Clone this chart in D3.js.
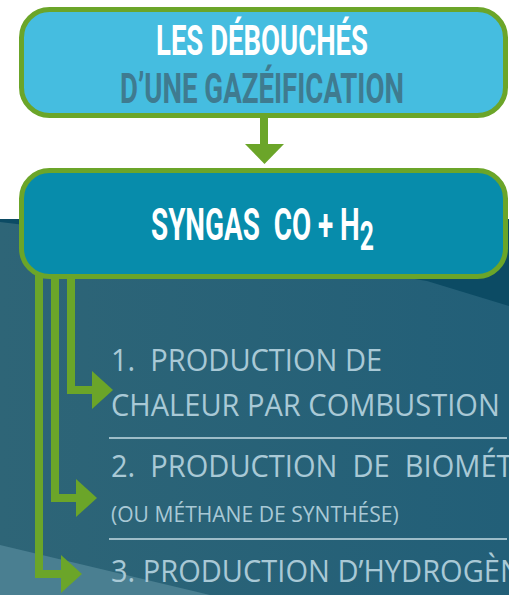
<!DOCTYPE html>
<html>
<head>
<meta charset="utf-8">
<script src="https://cdn.jsdelivr.net/npm/d3@7"></script>
<style>
  html, body { margin: 0; padding: 0; background: #fff; }
  svg { display: block; }
  text { white-space: pre; }
</style>
</head>
<body>
<svg id="chart" width="509" height="595"></svg>
<script>
// texts of the diagram
var titleLines = ["LES DÉBOUCHÉS", "D’UNE GAZÉIFICATION"];
var syngasLabel = ["SYNGAS  CO + H", "2"];
var outletLines = [
  ["1.  PRODUCTION DE", "CHALEUR PAR COMBUSTION"],
  ["2.  PRODUCTION  DE  BIOMÉTHANE", "(OU MÉTHANE DE SYNTHÉSE)"],
  ["3. PRODUCTION D’HYDROGÈNE"]
];

var W = 509, H = 595;
var green = "#6ba529";
var svg = d3.select("#chart");

// background
var defs = svg.append("defs");
var grad = defs.append("linearGradient").attr("id", "bg").attr("x1", 0).attr("x2", 1).attr("y1", 0).attr("y2", 0);
grad.append("stop").attr("offset", 0).attr("stop-color", "#2e6577");
grad.append("stop").attr("offset", 1).attr("stop-color", "#225f78");

svg.append("rect").attr("x", 0).attr("y", 219).attr("width", W).attr("height", H - 219).attr("fill", "url(#bg)");
svg.append("path")
  .attr("d", d3.line()([[0, 219], [W, 219], [W, 306], [427, 281], [250, 252], [0, 222]]))
  .attr("fill", "#0c4b64");
svg.append("path")
  .attr("d", d3.line()([[0, 545], [210, H], [0, H]]))
  .attr("fill", "#4a7f91");

// helper: squeeze a text horizontally so it spans a given width
function fitText(sel, width, cx, anchor) {
  var n = sel.node().getComputedTextLength();
  var k = width / n;
  sel.attr("transform", "translate(" + cx + ",0) scale(" + k + ",1)")
    .attr("x", 0).attr("text-anchor", anchor || "middle");
  return k;
}

// boxes
function box(y0, y1, fill) {
  svg.append("rect")
    .attr("x", 21.5).attr("y", y0).attr("width", 484).attr("height", y1 - y0)
    .attr("rx", 28).attr("fill", fill)
    .attr("stroke", green).attr("stroke-width", 5);
}
box(9.5, 115.5, "#45bde0");

// arrow between boxes
svg.append("line").attr("x1", 264).attr("x2", 264).attr("y1", 117).attr("y2", 146)
  .attr("stroke", green).attr("stroke-width", 8);
svg.append("path").attr("d", d3.line()([[245, 144], [284, 144], [264.5, 164]]) + "Z").attr("fill", green);

// branch arrows (drawn before second box so they start under it)
var branchX = [71, 55, 39];
var branchY = [390, 498, 574];
var headBase = [92, 76, 61];
outletLines.forEach(function(d, i) {
  svg.append("path")
    .attr("d", d3.line()([[branchX[i], 270], [branchX[i], branchY[i]], [headBase[i] + 1, branchY[i]]]))
    .attr("fill", "none").attr("stroke", green).attr("stroke-width", 8)
    .attr("stroke-linejoin", "miter").attr("stroke-linecap", "butt");
  svg.append("path")
    .attr("d", d3.line()([[headBase[i], branchY[i] - 19], [headBase[i] + 21, branchY[i]], [headBase[i], branchY[i] + 19]]) + "Z")
    .attr("fill", green);
});

box(170.5, 276.5, "#078cab");

// titles
var t1 = svg.append("text").attr("y", 55)
  .attr("font-family", "Roboto, 'DejaVu Sans'").attr("font-weight", 700).attr("font-size", 42)
  .attr("fill", "#ffffff").text(titleLines[0]);
fitText(t1, 212, 262);
var t2 = svg.append("text").attr("y", 103)
  .attr("font-family", "Roboto, 'DejaVu Sans'").attr("font-weight", 700).attr("font-size", 43)
  .attr("fill", "#3f7b90").text(titleLines[1]);
fitText(t2, 284, 262);

var s = svg.append("text").attr("y", 240)
  .attr("font-family", "Roboto, 'DejaVu Sans'").attr("font-weight", 700).attr("font-size", 45)
  .attr("fill", "#ffffff");
s.append("tspan").text(syngasLabel[0]);
s.append("tspan").attr("dy", 10).attr("font-size", 40).text(syngasLabel[1]);
fitText(s, 223, 151, "start");

// outlet texts
var itemFont = "'Open Sans', 'Noto Sans', sans-serif";
var txtColor = "#a9c9d6";
var ref = svg.append("text").attr("y", 416)
  .attr("font-family", itemFont).attr("font-weight", 400).attr("font-size", 31)
  .attr("fill", txtColor).text(outletLines[0][1]);
var k = fitText(ref, 389, 111, "start");

function itemLine(str, y, size) {
  return svg.append("text").attr("y", y)
    .attr("transform", "translate(111,0) scale(" + k + ",1)")
    .attr("font-family", itemFont).attr("font-weight", 400).attr("font-size", size)
    .attr("fill", txtColor).text(str);
}
itemLine(outletLines[0][0], 371, 31);
itemLine(outletLines[1][0], 477, 31);
itemLine(outletLines[1][1], 522, 22.5);
itemLine(outletLines[2][0], 582, 31);

// separators
[438, 539].forEach(function(y) {
  svg.append("line").attr("x1", 109).attr("x2", 507).attr("y1", y).attr("y2", y)
    .attr("stroke", "#c5dbe3").attr("stroke-width", 1.5);
});
</script>
</body>
</html>
